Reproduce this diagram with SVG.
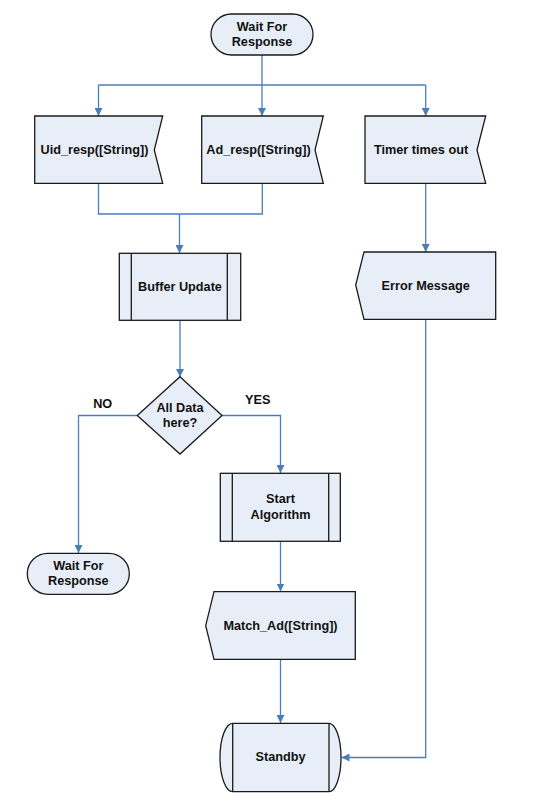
<svg xmlns="http://www.w3.org/2000/svg" width="536" height="801" viewBox="0 0 536 801">
<style>
.n{fill:#E8EEF7;stroke:#1a1a1a;stroke-width:1.3}
.l{fill:none;stroke:#4A7EBB;stroke-width:1.3}
.t{font-family:"Liberation Sans",Arial,sans-serif;font-weight:bold;font-size:12.7px;fill:#111;text-anchor:middle}
</style>
<defs>
<marker id="a" viewBox="0 0 10 10" refX="10" refY="5" markerWidth="8" markerHeight="8" markerUnits="userSpaceOnUse" orient="auto">
<path d="M0,0 L10,5 L0,10 z" fill="#4A7EBB"/>
</marker>
</defs>
<rect width="536" height="801" fill="#fff"/>
<g id="connectors">
<path class="l" d="M262,55 V85 M98.5,85 H425.7" />
<path class="l" d="M98.5,85 V116" marker-end="url(#a)"/>
<path class="l" d="M262,85 V116" marker-end="url(#a)"/>
<path class="l" d="M425.7,85 V116" marker-end="url(#a)"/>
<path class="l" d="M98.5,183 V214 H262.3 V183"/>
<path class="l" d="M179.5,214 V253" marker-end="url(#a)"/>
<path class="l" d="M425.7,183 V252" marker-end="url(#a)"/>
<path class="l" d="M180,320 V377" marker-end="url(#a)"/>
<path class="l" d="M137.3,415.5 H78.5 V553" marker-end="url(#a)"/>
<path class="l" d="M222,415.5 H280.5 V473" marker-end="url(#a)"/>
<path class="l" d="M280.5,541 V591.5" marker-end="url(#a)"/>
<path class="l" d="M280.5,659 V723" marker-end="url(#a)"/>
<path class="l" d="M425.7,319 V757.5 H341.5" marker-end="url(#a)"/>
</g>
<g id="wait1">
<rect class="n" x="211" y="14" width="102" height="41" rx="20.5"/>
<text class="t" x="262" y="30.5">Wait For</text>
<text class="t" x="262" y="45.5">Response</text>
</g>
<g id="uid">
<path class="n" d="M34.7,116 H162.7 L154.3,150 L162.7,183.3 H34.7 Z"/>
<text class="t" x="94.5" y="154.3">Uid_resp([String])</text>
</g>
<g id="ad">
<path class="n" d="M201.7,116 H323.3 L315,150 L323.3,183.3 H201.7 Z"/>
<text class="t" x="258.5" y="154.3">Ad_resp([String])</text>
</g>
<g id="timer">
<path class="n" d="M365,116 H485.7 L477,150 L485.7,183.3 H365 Z"/>
<text class="t" x="421" y="154.3">Timer times out</text>
</g>
<g id="buffer">
<rect class="n" x="119.3" y="253.3" width="121.4" height="67"/>
<path class="n" d="M131.3,253.3 V320.3 M227.3,253.3 V320.3"/>
<text class="t" x="180" y="291">Buffer Update</text>
</g>
<g id="error">
<path class="n" d="M364,252 H495.7 V319.3 H364 L355.7,285 Z"/>
<text class="t" x="425.7" y="290">Error Message</text>
</g>
<g id="decision">
<path class="n" d="M180,376.7 L222,415.5 L180,454 L137.3,415.5 Z"/>
<text class="t" x="180" y="411.7">All Data</text>
<text class="t" x="180" y="426.7">here?</text>
</g>
<text class="t" x="102.7" y="407.7">NO</text>
<text class="t" x="257.7" y="403.7">YES</text>
<g id="start">
<rect class="n" x="220.3" y="473.3" width="120" height="68"/>
<path class="n" d="M232.3,473.3 V541.3 M328.7,473.3 V541.3"/>
<text class="t" x="280.5" y="503.3">Start</text>
<text class="t" x="280.5" y="519">Algorithm</text>
</g>
<g id="wait2">
<rect class="n" x="27.3" y="553.3" width="102" height="41" rx="20.5"/>
<text class="t" x="78.3" y="570">Wait For</text>
<text class="t" x="78.3" y="585">Response</text>
</g>
<g id="match">
<path class="n" d="M214,591.7 H355.3 V659.3 H214 L205.7,625.7 Z"/>
<text class="t" x="280.5" y="630.3">Match_Ad([String])</text>
</g>
<g id="standby">
<path class="n" d="M232.7,723.3 H329 A12 34.2 0 0 1 329,791.7 H232.7 A12.7 34.2 0 0 1 232.7,723.3 Z"/>
<path class="n" d="M232.7,723.3 V791.7 M329,723.3 V791.7"/>
<text class="t" x="280.5" y="761">Standby</text>
</g>
</svg>
